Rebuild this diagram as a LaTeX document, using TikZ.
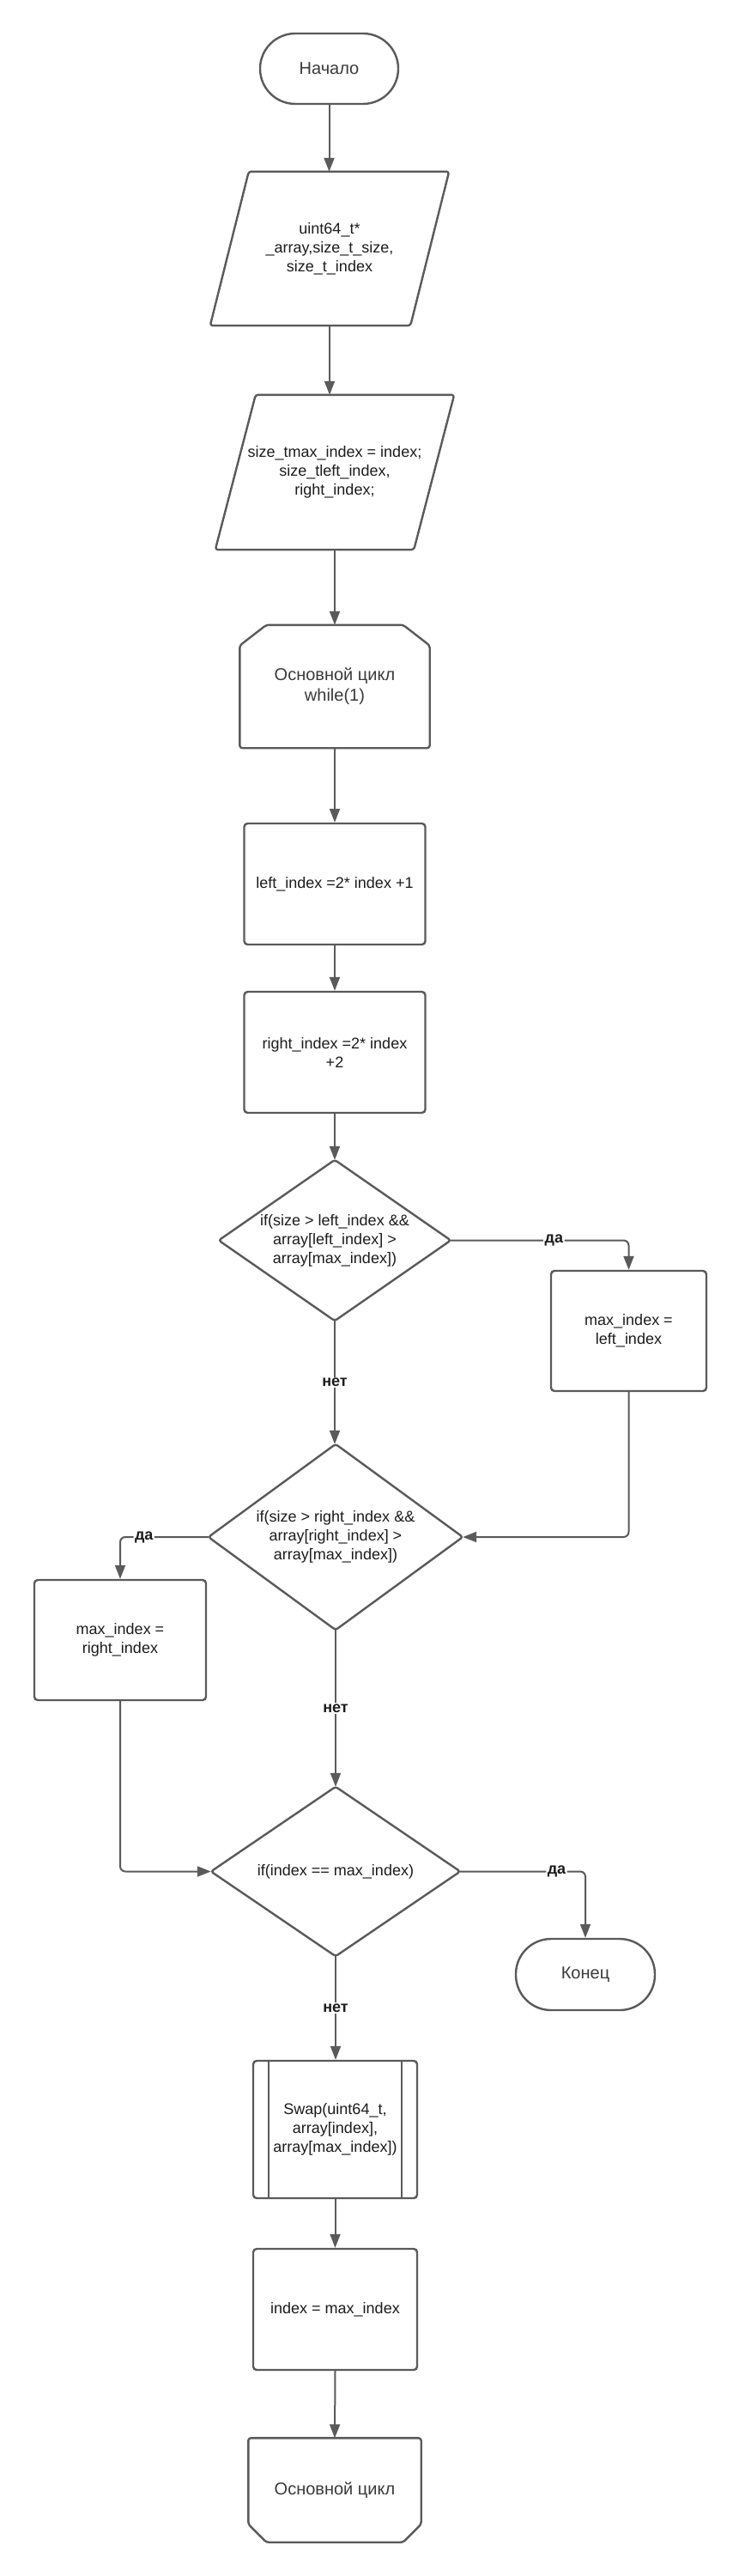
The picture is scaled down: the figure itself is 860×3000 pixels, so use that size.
\documentclass[tikz,border=0pt]{standalone}
\usepackage{fontspec}
\setmainfont{Liberation Sans}
\usetikzlibrary{arrows.meta,calc}
\definecolor{ln}{HTML}{5A5A5A}
\definecolor{tx}{HTML}{1C1C1C}
\definecolor{tg}{HTML}{3A3A3A}
\begin{document}
\begin{tikzpicture}[x=1pt,y=-1pt,
  txt/.style={align=center, text=tx, inner sep=0pt, font=\fontsize{18}{22}\selectfont},
  box/.style={txt, draw=ln, line width=2.4pt, rounded corners=4pt},
  ghost/.style={txt},
  term/.style={draw=ln, line width=2.4pt, rounded corners=41pt, align=center, text=tg, inner sep=0pt, font=\fontsize{20}{24}\selectfont, minimum width=161pt, minimum height=82pt},
  shp/.style={draw=ln, line width=2.4pt, rounded corners=3pt, line join=round},
  arr/.style={draw=ln, line width=2pt, -{Triangle[length=16pt,width=12pt]}},
  lab/.style={fill=white, text=tx, inner sep=1.5pt, font=\bfseries\fontsize{18}{20}\selectfont},
]
\fill[white] (0,0) rectangle (860,3000);

% nodes
\node[term] (start) at (383.5,80) {Начало};

\node[ghost, minimum width=278pt, minimum height=179pt] (p1) at (384,289.5)
  {uint64\_t*\\\_array,size\_t\_size,\\size\_t\_index};
\draw[shp] ($(p1.north west)+(45,0)$) -- (p1.north east) -- ($(p1.south east)+(-45,0)$) -- (p1.south west) -- cycle;

\node[ghost, minimum width=278pt, minimum height=180pt] (p2) at (390,550)
  {size\_tmax\_index = index;\\size\_tleft\_index,\\right\_index;};
\draw[shp] ($(p2.north west)+(47,0)$) -- (p2.north east) -- ($(p2.south east)+(-47,0)$) -- (p2.south west) -- cycle;

\node[ghost, text=tg, font=\fontsize{20}{24}\selectfont, minimum width=221pt, minimum height=143pt] (loop) at (390,799.5)
  {Основной цикл\\while(1)};
\draw[shp] ($(loop.north west)+(0,24)$) -- ($(loop.north west)+(31,0)$) -- ($(loop.north east)+(-31,0)$) -- ($(loop.north east)+(0,24)$) -- (loop.south east) -- (loop.south west) -- cycle;

\node[box, minimum width=211pt, minimum height=141pt] (r1) at (390,1029.5) {left\_index =2* index +1};
\node[box, minimum width=211pt, minimum height=141pt] (r2) at (390,1225.5) {right\_index =2* index\\+2};

\node[ghost, minimum width=270pt, minimum height=187pt] (d1) at (390,1444.5)
  {if(size > left\_index \&\&\\array[left\_index] >\\array[max\_index])};
\draw[shp] (d1.north) -- (d1.east) -- (d1.south) -- (d1.west) -- cycle;

\node[box, minimum width=181pt, minimum height=140pt] (m1) at (732.5,1550) {max\_index =\\left\_index};

\node[ghost, minimum width=296pt, minimum height=216pt] (d2) at (391,1790)
  {if(size > right\_index \&\&\\array[right\_index] >\\array[max\_index])};
\draw[shp] (d2.north) -- (d2.east) -- (d2.south) -- (d2.west) -- cycle;

\node[box, minimum width=200pt, minimum height=140pt] (m2) at (140,1910) {max\_index =\\right\_index};

\node[ghost, minimum width=290pt, minimum height=197pt] (d3) at (391,2179.5)
  {if(index == max\_index)};
\draw[shp] (d3.north) -- (d3.east) -- (d3.south) -- (d3.west) -- cycle;

\node[term, minimum width=162pt, minimum height=83pt] (end) at (682,2299.5) {Конец};

\node[box, minimum width=191pt, minimum height=160pt] (swap) at (390.5,2480)
  {Swap(uint64\_t,\\array[index],\\array[max\_index])};
\draw[shp] ($(swap.north west)+(19,0)$) -- ($(swap.south west)+(19,0)$);
\draw[shp] ($(swap.north east)+(-19,0)$) -- ($(swap.south east)+(-19,0)$);

\node[box, minimum width=191pt, minimum height=141pt] (idx) at (390.5,2689.5) {index = max\_index};

\node[ghost, text=tg, font=\fontsize{20}{24}\selectfont, minimum width=201pt, minimum height=121pt] (lend) at (390,2900)
  {Основной цикл};
\draw[shp] (lend.north west) -- (lend.north east) -- ($(lend.south east)+(0,-21)$) -- ($(lend.south east)+(-21,0)$) -- ($(lend.south west)+(21,0)$) -- ($(lend.south west)+(0,-21)$) -- cycle;

% connectors
\draw[arr] (start) -- (start |- p1.north);
\draw[arr] (p1.south) -- (p1.south |- p2.north);
\draw[arr] (p2.south) -- (loop.north);
\draw[arr] (loop.south) -- (r1.north);
\draw[arr] (r1.south) -- (r2.north);
\draw[arr] (r2.south) -- (d1.north);
\draw[arr, rounded corners=6pt] (d1.east) -- node[lab, pos=0.58]{да} (m1.north |- d1.east) -- (m1.north);
\draw[arr] (d1.south) -- node[lab]{нет} (d1.south |- d2.north);
\draw[arr, rounded corners=6pt] (m1.south) |- (d2.east);
\draw[arr, rounded corners=6pt] (d2.west) -- node[lab, pos=0.73]{да} (m2.north |- d2.west) -- (m2.north);
\draw[arr] (d2.south) -- node[lab]{нет} (d3.north);
\draw[arr, rounded corners=6pt] (m2.south) |- (d3.west);
\draw[arr, rounded corners=6pt] (d3.east) -- node[lab, pos=0.77]{да} (end.north |- d3.east) -- (end.north);
\draw[arr] (d3.south) -- node[lab]{нет} (d3.south |- swap.north);
\draw[arr] (swap.south) -- (idx.north);
\draw[arr] (idx.south) -- (lend.north);
\end{tikzpicture}
\end{document}
